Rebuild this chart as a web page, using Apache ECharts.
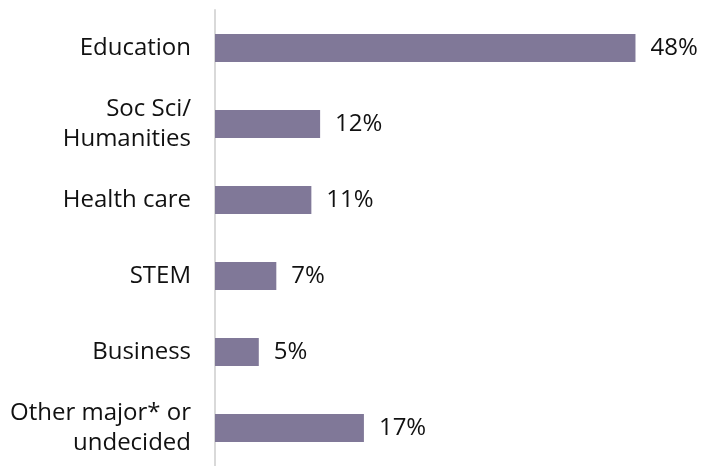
<!DOCTYPE html>
<html>
<head>
<meta charset="utf-8">
<script src="https://cdn.jsdelivr.net/npm/echarts@6/dist/echarts.min.js"></script>
<style>
  html, body { margin: 0; padding: 0; background: #ffffff; }
  #chart { width: 703px; height: 466px; }
</style>
</head>
<body>
<div id="chart"></div>
<script>
// Fields of study, listed top to bottom
const categories = [
  'Education',
  'Soc Sci/\nHumanities',
  'Health care',
  'STEM',
  'Business',
  'Other major* or\nundecided'
];
// Share of respondents, percent
const shares = [48, 12, 11, 7, 5, 17];

const chart = echarts.init(document.getElementById('chart'));
const font = '"Open Sans", "Liberation Sans", sans-serif';

chart.setOption({
  animation: false,
  backgroundColor: '#ffffff',
  grid: { left: 215, top: 10, width: 438, height: 463, containLabel: false },
  xAxis: {
    type: 'value',
    min: 0,
    max: 50,
    show: false
  },
  yAxis: {
    type: 'category',
    inverse: true,
    data: categories,
    axisLine: { show: true, lineStyle: { color: '#d9d9d9', width: 2 } },
    axisTick: { show: false },
    axisLabel: {
      margin: 24,
      color: '#111111',
      fontFamily: font,
      fontSize: 24,
      lineHeight: 30,
      align: 'right'
    }
  },
  series: [{
    type: 'bar',
    data: shares,
    barWidth: 28,
    itemStyle: { color: '#807898' },
    label: {
      show: true,
      position: 'right',
      distance: 15,
      formatter: '{c}%',
      color: '#111111',
      fontFamily: font,
      fontSize: 24
    }
  }]
});
</script>
</body>
</html>
